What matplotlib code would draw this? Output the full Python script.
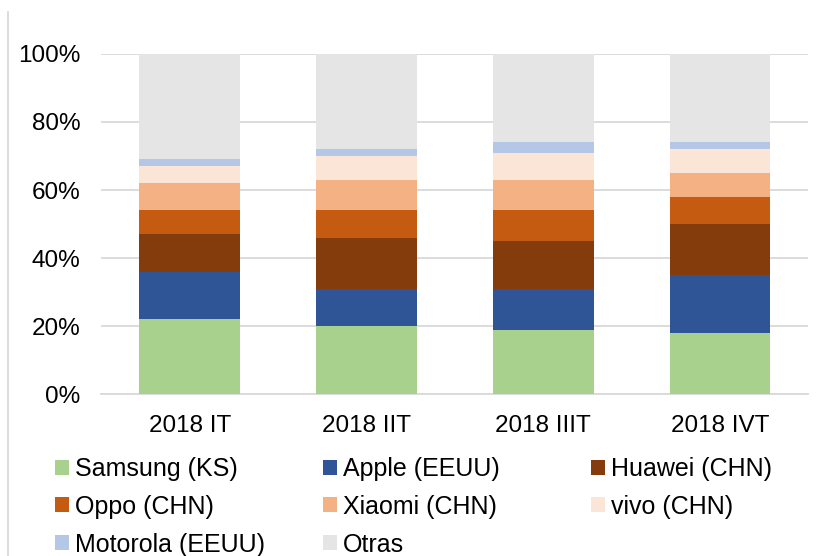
import matplotlib
matplotlib.use('Agg')
import matplotlib.pyplot as plt
import numpy as np
from matplotlib.lines import Line2D
from matplotlib.ticker import PercentFormatter

plt.rcParams['font.family'] = ['Liberation Sans', 'DejaVu Sans']

# Shares per quarter (%)
quarters = ['2018 IT', '2018 IIT', '2018 IIIT', '2018 IVT']
brands = ['Samsung (KS)', 'Apple (EEUU)', 'Huawei (CHN)', 'Oppo (CHN)',
          'Xiaomi (CHN)', 'vivo (CHN)', 'Motorola (EEUU)', 'Otras']
samsung = [22, 20, 19, 18]
apple = [14, 11, 12, 17]
huawei = [11, 15, 14, 15]
oppo = [7, 8, 9, 8]
xiaomi = [8, 9, 9, 7]
vivo = [5, 7, 8, 7]
motorola = [2, 2, 3, 2]
otras = [31, 28, 26, 26]
colors = ['#a9d18e', '#2f5597', '#843c0c', '#c55a11',
          '#f4b183', '#fbe5d6', '#b4c7e7', '#e5e5e5']

series = [samsung, apple, huawei, oppo, xiaomi, vivo, motorola, otras]

fig = plt.figure(figsize=(8.3, 5.56), dpi=100)
ax = fig.add_axes([0.122, 0.291, 0.852, 0.612])

x = np.arange(len(quarters))
bottom = np.zeros(len(quarters))
for name, vals, c in zip(brands, series, colors):
    vals = np.array(vals) / 100.0
    ax.bar(x, vals, 0.57, bottom=bottom, color=c, label=name, zorder=3)
    bottom += vals

ax.set_ylim(0, 1)
ax.set_xlim(-0.5, 3.5)
ax.set_yticks(np.arange(0, 1.01, 0.2))
ax.yaxis.set_major_formatter(PercentFormatter(1.0, decimals=0))
ax.set_xticks(x)
ax.set_xticklabels(quarters)
ax.tick_params(axis='both', length=0, labelsize=17.5, colors='#000000')
ax.tick_params(axis='x', pad=15)
ax.tick_params(axis='y', pad=15)
ax.grid(axis='y', color='#d9d9d9', linewidth=1.3, zorder=0)
for s in ['top', 'right', 'left']:
    ax.spines[s].set_visible(False)
ax.spines['bottom'].set_color('#d9d9d9')
ax.spines['bottom'].set_linewidth(1.3)

# legend in three equal-width columns, filled row by row
handles, labels = ax.get_legend_handles_labels()
col_x = [0.066, 0.389, 0.712]
for col in range(3):
    idx = list(range(col, len(handles), 3))
    fig.legend([handles[i] for i in idx], [labels[i] for i in idx],
               loc='upper left', bbox_to_anchor=(col_x[col], 0.178), ncol=1,
               frameon=False, fontsize=18, handlelength=0.55, handleheight=0.55,
               handletextpad=0.25, labelspacing=0.55,
               borderaxespad=0, borderpad=0)

# thin border line at the left edge
fig.add_artist(Line2D([0.010, 0.010], [0.0, 0.978], color='#d9d9d9', linewidth=1.3))

fig.savefig('out.png', dpi=100)
